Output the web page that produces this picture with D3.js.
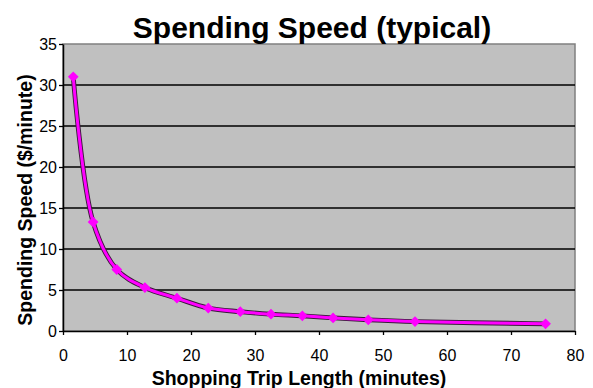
<!DOCTYPE html>
<html><head><meta charset="utf-8">
<script src="https://cdn.jsdelivr.net/npm/d3@7"></script>
<style>body{margin:0;background:#fff}svg{display:block}text{font-family:"Liberation Sans",Arial,sans-serif}</style>
</head><body>
<svg id="c" width="593" height="388"></svg>
<script>
const tripMinutes = [1.6, 4.7, 8.4, 12.8, 17.8, 22.7, 27.7, 32.5, 37.4, 42.2, 47.7, 55.0, 75.4];
const spendRate   = [31.0, 13.3, 7.5, 5.3, 4.0, 2.8, 2.35, 2.05, 1.85, 1.6, 1.37, 1.15, 0.88];
const xTicks = [0,10,20,30,40,50,60,70,80];
const yTicks = [0,5,10,15,20,25,30,35];
const titleText = "Spending Speed (typical)";
const xLabel = "Shopping Trip Length (minutes)";
const yLabel = "Spending Speed ($/minute)";

const svg = d3.select("#c");
const L=63, R=575, T=44, B=331;
const x = d3.scaleLinear().domain([0,80]).range([L,R]);
const y = d3.scaleLinear().domain([0,35]).range([B,T]);

svg.append("rect").attr("x",L).attr("y",T).attr("width",R-L).attr("height",B-T)
  .attr("fill","#c0c0c0").attr("stroke","#808080").attr("stroke-width",1.5);

svg.append("g").selectAll("line").data(yTicks.filter(d=>d>0&&d<35)).join("line")
  .attr("x1",L).attr("x2",R).attr("y1",d=>y(d)).attr("y2",d=>y(d))
  .attr("stroke","#000").attr("stroke-width",1.3);

const xa = svg.append("g").attr("transform",`translate(0,${B})`)
  .call(d3.axisBottom(x).tickValues(xTicks).tickSize(4).tickSizeOuter(0));
const ya = svg.append("g").attr("transform",`translate(${L},0)`)
  .call(d3.axisLeft(y).tickValues(yTicks).tickSize(4).tickSizeOuter(0));
[xa,ya].forEach(a=>{
  a.select(".domain").attr("stroke","#000").attr("stroke-width",1.5);
  a.selectAll(".tick line").attr("stroke","#000").attr("stroke-width",1.3);
  a.selectAll("text").attr("font-size",16).attr("fill","#000").attr("font-family","Liberation Sans, Arial, sans-serif");
});
xa.selectAll("text").attr("y",19).attr("dy","0.71em");
ya.selectAll("text").attr("x",-6).attr("dy","0.35em");

const pts = tripMinutes.map((t,i)=>[t,spendRate[i]]);
const smooth = d3.line().x(d=>x(d[0])).y(d=>y(d[1])).curve(d3.curveCatmullRom.alpha(0.5));

svg.append("path").datum(pts).attr("d",smooth).attr("fill","none")
  .attr("stroke","#3a1a3a").attr("stroke-width",4.8);
svg.append("path").datum(pts).attr("d",smooth).attr("fill","none")
  .attr("stroke","#ff00ff").attr("stroke-width",3);

svg.append("g").selectAll("path").data(pts).join("path")
  .attr("transform",d=>`translate(${x(d[0])},${y(d[1])}) rotate(45)`)
  .attr("d",d3.symbol().type(d3.symbolSquare).size(58))
  .attr("fill","#ff00ff");

svg.append("text").attr("x",312).attr("y",38).attr("text-anchor","middle")
  .attr("font-size",30).attr("font-weight","bold").text(titleText);
svg.append("text").attr("x",299).attr("y",385).attr("text-anchor","middle")
  .attr("font-size",19.5).attr("font-weight","bold").text(xLabel);
svg.append("text").attr("transform","translate(32,200) rotate(-90)").attr("text-anchor","middle")
  .attr("font-size",19.5).attr("font-weight","bold").text(yLabel);
</script>
</body></html>
